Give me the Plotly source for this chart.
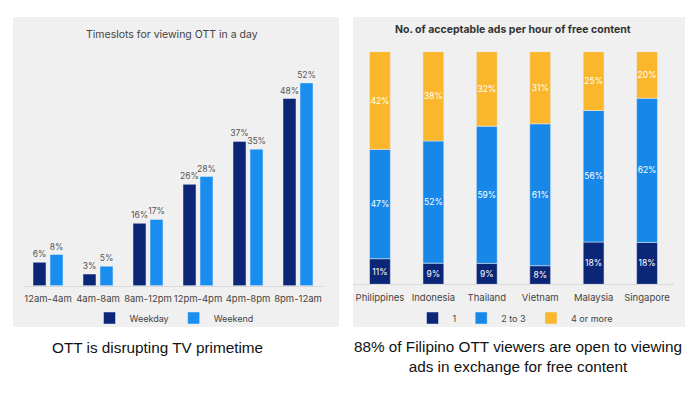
import plotly.graph_objects as go
import numpy as np

# ---- data ----
timeslots = ["12am-4am", "4am-8am", "8am-12pm", "12pm-4pm", "4pm-8pm", "8pm-12am"]
weekday = [6, 3, 16, 26, 37, 48]
weekend = [8, 5, 17, 28, 35, 52]

countries = ["Philippines", "Indonesia", "Thailand", "Vietnam", "Malaysia", "Singapore"]
ads_1 = [11, 9, 9, 8, 18, 18]
ads_2to3 = [47, 52, 59, 61, 56, 62]
ads_4plus = [42, 38, 32, 31, 25, 20]

OFF = 8  # page body margin
W, H = 700 - OFF, 400 - OFF
def px(x):
    return (x - OFF) / W
def py(y):
    return 1 - (y - OFF) / H

NAVY = "#0c2677"
BLUE = "#1a8eef"
BLUE2 = "#1788e8"
ORANGE = "#fbb72c"
PANEL = "#f0f0f0"
FONT = "Inter"

fig = go.Figure()

# left chart: grouped bars
fig.add_trace(go.Bar(
    x=timeslots, y=weekday, name="Weekday", marker_color=NAVY,
    width=0.26, offset=-0.30, text=[f"{v}%" for v in weekday],
    textposition="outside", textfont=dict(size=8.5, color="#555555", family=FONT),
    cliponaxis=False, xaxis="x", yaxis="y", legend="legend",
))
fig.add_trace(go.Bar(
    x=timeslots, y=weekend, name="Weekend", marker_color=BLUE,
    width=0.26, offset=0.04, text=[f"{v}%" for v in weekend],
    textposition="outside", textfont=dict(size=8.5, color="#555555", family=FONT),
    cliponaxis=False, xaxis="x", yaxis="y", legend="legend",
))

# right chart: 100% stacked bars
arr = np.array([ads_1, ads_2to3, ads_4plus], dtype=float)
share = arr / arr.sum(axis=0) * 100
bases = np.vstack([np.zeros(len(countries)), np.cumsum(share, axis=0)[:-1]])
for raw, vals, base, name, col in zip(
        [ads_1, ads_2to3, ads_4plus], share, bases,
        ["1", "2 to 3", "4 or more"], [NAVY, BLUE2, ORANGE]):
    fig.add_trace(go.Bar(
        x=countries, y=vals, base=base, name=name, marker_color=col,
        width=0.39, text=[f"{v}%" for v in raw], textposition="inside",
        insidetextanchor="middle", textangle=0,
        textfont=dict(size=8.5, color="white", family=FONT),
        xaxis="x2", yaxis="y2", legend="legend2",
    ))

axis_common = dict(showgrid=False, zeroline=False, showline=True,
                   linecolor="#d9d9d9", linewidth=1, ticks="outside", ticklen=4,
                   tickcolor="rgba(0,0,0,0)", tickangle=0,
                   tickfont=dict(size=9.5, color="#444444", family=FONT),
                   fixedrange=True, automargin=False)

fig.update_layout(
    width=W, height=H, margin=dict(l=0, r=0, t=0, b=0),
    paper_bgcolor="white", plot_bgcolor="rgba(0,0,0,0)",
    barmode="overlay",
    uniformtext=dict(minsize=8.5, mode="show"),
    font=dict(family=FONT),
    xaxis=dict(domain=[px(23), px(323)], anchor="y", range=[-0.5, 5.5], **axis_common),
    yaxis=dict(domain=[py(285.7), py(71.2)], range=[0, 55], visible=False),
    xaxis2=dict(domain=[px(353.25), px(673.75)], anchor="y2", range=[-0.5, 5.5], **axis_common),
    yaxis2=dict(domain=[py(284.3), py(51.7)], range=[0, 100], visible=False),
    legend=dict(orientation="h", x=px(174), y=py(318), xanchor="center", yanchor="middle",
                font=dict(size=9, color="#444444", family=FONT), bgcolor="rgba(0,0,0,0)",
                itemwidth=30, traceorder="normal"),
    legend2=dict(orientation="h", x=px(515), y=py(318), xanchor="center", yanchor="middle",
                 font=dict(size=9, color="#444444", family=FONT), bgcolor="rgba(0,0,0,0)",
                 itemwidth=30, traceorder="normal"),
    shapes=[
        dict(type="rect", xref="paper", yref="paper", x0=px(13), x1=px(339), y0=py(327), y1=py(17),
             fillcolor=PANEL, line_width=0, layer="below"),
        dict(type="rect", xref="paper", yref="paper", x0=px(353), x1=px(685), y0=py(327), y1=py(17),
             fillcolor=PANEL, line_width=0, layer="below"),
    ],
    annotations=[
        dict(text="Timeslots for viewing OTT in a day", xref="paper", yref="paper",
             x=px(172), y=py(35), xanchor="center", yanchor="middle", showarrow=False,
             font=dict(size=10.5, color="#444444", family=FONT)),
        dict(text="<b>No. of acceptable ads per hour of free content</b>", xref="paper", yref="paper",
             x=px(513), y=py(29), xanchor="center", yanchor="middle", showarrow=False,
             font=dict(size=10.5, color="#333333", family=FONT)),
        dict(text="OTT is disrupting TV primetime", xref="paper", yref="paper",
             x=px(157.5), y=py(347), xanchor="center", yanchor="middle", showarrow=False,
             font=dict(size=15.3, color="#111111", family="Liberation Sans")),
        dict(text="88% of Filipino OTT viewers are open to viewing<br>ads in exchange for free content",
             xref="paper", yref="paper",
             x=px(518), y=py(356), xanchor="center", yanchor="middle", showarrow=False,
             font=dict(size=15.3, color="#111111", family="Liberation Sans")),
    ],
    showlegend=True,
)

fig.write_html("out.html")
